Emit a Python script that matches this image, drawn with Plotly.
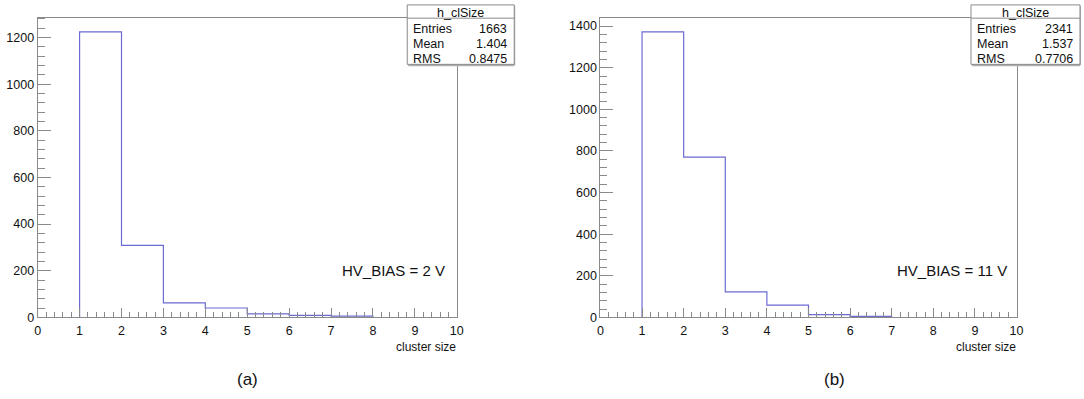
import plotly.graph_objects as go

# ---------------- data ----------------
bins_a = [1, 2, 3, 4, 5, 6, 7]              # lower bin edges (bin width 1)
counts_a = [1224, 309, 62, 40, 15, 8, 5]
bins_b = [1, 2, 3, 4, 5, 6]
counts_b = [1372, 770, 122, 59, 13, 5]

stats_a = {"Entries": "1663", "Mean": "1.404", "RMS": "0.8475"}
stats_b = {"Entries": "2341", "Mean": "1.537", "RMS": "0.7706"}
label_a = "HV_BIAS = 2 V"
label_b = "HV_BIAS = 11 V"
hist_name = "h_clSize"
x_title = "cluster size"
x_ticks = [0, 1, 2, 3, 4, 5, 6, 7, 8, 9, 10]

W, H = 1084, 399
FONT = "Liberation Sans, Arial, Helvetica, sans-serif"
AX = "#8a8a8a"
HC = "#6a6ad2"


def px(x):
    return x / W


def py(y):
    return 1 - y / H


def step(bins, counts):
    xs = [bins[0]] + list(bins) + [bins[-1] + 1]
    ys = [0] + list(counts) + [0]
    return xs, ys


fig = go.Figure()
xa, ya = step(bins_a, counts_a)
xb, yb = step(bins_b, counts_b)
fig.add_trace(go.Scatter(x=xa, y=ya, mode="lines", line=dict(shape="hv", color=HC, width=1.2),
                         xaxis="x", yaxis="y", showlegend=False, hoverinfo="skip"))
fig.add_trace(go.Scatter(x=xb, y=yb, mode="lines", line=dict(shape="hv", color=HC, width=1.2),
                         xaxis="x2", yaxis="y2", showlegend=False, hoverinfo="skip"))

top_y, bot_y = 18, 323
panels = [
    dict(x0=35, x1=458, ymax=max(counts_a) * 1.05),
    dict(x0=603, x1=1023, ymax=max(counts_b) * 1.05),
]


def xaxis(p, anchor):
    return dict(domain=[px(p["x0"]), px(p["x1"])], range=[0, 10], anchor=anchor,
                tickvals=x_ticks, ticks="inside", ticklen=9, tickcolor=AX, tickwidth=1,
                ticklabelstandoff=2,
                showline=True, linecolor=AX, linewidth=1, mirror=True, showgrid=False, zeroline=False,
                tickfont=dict(family=FONT, size=12.5, color="#111"),
                minor=dict(dtick=0.2, ticks="inside", ticklen=5, tickcolor=AX, showgrid=False))


def yaxis(p, anchor):
    return dict(domain=[py(bot_y), py(top_y)], range=[0, p["ymax"]], anchor=anchor,
                dtick=200, ticks="inside", ticklen=13, tickcolor=AX, tickwidth=1,
                showline=True, linecolor=AX, linewidth=1, mirror=True, showgrid=False, zeroline=False,
                tickfont=dict(family=FONT, size=12.5, color="#111"),
                minor=dict(dtick=40, ticks="inside", ticklen=7, tickcolor=AX, showgrid=False))


shapes = []
annotations = []


def stats_box(left, right, stats):
    t, div, b = 5, 18.5, 65.5
    # shadow
    shapes.append(dict(type="line", xref="paper", yref="paper", x0=px(left + 1), x1=px(right), y0=py(b + 1), y1=py(b + 1),
                       line=dict(color="#b0b0b0", width=2)))
    shapes.append(dict(type="line", xref="paper", yref="paper", x0=px(right), x1=px(right), y0=py(t + 1), y1=py(b + 1),
                       line=dict(color="#b0b0b0", width=2)))
    shapes.append(dict(type="rect", xref="paper", yref="paper", x0=px(left), x1=px(right), y0=py(b), y1=py(t),
                       line=dict(color=AX, width=1), fillcolor="white"))
    shapes.append(dict(type="line", xref="paper", yref="paper", x0=px(left), x1=px(right), y0=py(div), y1=py(div),
                       line=dict(color=AX, width=1)))
    annotations.append(dict(text=hist_name, xref="paper", yref="paper", x=px((left + right) / 2), y=py(13),
                            xanchor="center", yanchor="middle", showarrow=False,
                            font=dict(family=FONT, size=12.5, color="#111")))
    for i, (k, v) in enumerate(stats.items()):
        yy = 29.5 + i * 15.5
        annotations.append(dict(text=k, xref="paper", yref="paper", x=px(left + 4), y=py(yy),
                                xanchor="left", yanchor="middle", showarrow=False,
                                font=dict(family=FONT, size=12.5, color="#111")))
        annotations.append(dict(text=v, xref="paper", yref="paper", x=px(right - 5), y=py(yy),
                                xanchor="right", yanchor="middle", showarrow=False,
                                font=dict(family=FONT, size=12.5, color="#111")))


stats_box(408, 516, stats_a)
stats_box(977, 1087, stats_b)

for p, lab, tag, lx, tx in [(panels[0], label_a, "(a)", 448, 247), (panels[1], label_b, "(b)", 1015, 839)]:
    annotations.append(dict(text=lab, xref="paper", yref="paper", x=px(lx), y=py(275),
                            xanchor="right", yanchor="middle", showarrow=False,
                            font=dict(family=FONT, size=15, color="#111")))
    annotations.append(dict(text=x_title, xref="paper", yref="paper", x=px(p["x1"]), y=py(345),
                            xanchor="right", yanchor="top", showarrow=False,
                            font=dict(family=FONT, size=12, color="#111"),
                            borderpad=0))
    annotations.append(dict(text=tag, xref="paper", yref="paper", x=px(tx), y=py(386),
                            xanchor="center", yanchor="middle", showarrow=False,
                            font=dict(family=FONT, size=17, color="#111")))

fig.update_layout(
    width=W, height=H, margin=dict(l=0, r=0, t=0, b=0),
    paper_bgcolor="white", plot_bgcolor="white",
    xaxis=xaxis(panels[0], "y"), yaxis=yaxis(panels[0], "x"),
    xaxis2=xaxis(panels[1], "y2"), yaxis2=yaxis(panels[1], "x2"),
    shapes=shapes, annotations=annotations, showlegend=False,
)

fig.write_html("out.html")
